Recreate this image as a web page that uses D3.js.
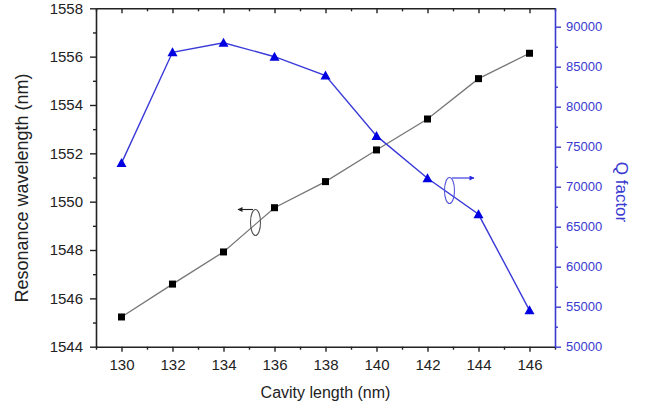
<!DOCTYPE html>
<html>
<head>
<meta charset="utf-8">
<script src="https://cdn.jsdelivr.net/npm/d3@7"></script>
<style>
  body { margin: 0; background: #fff; }
  text { font-family: Arial, "Liberation Sans", sans-serif; }
</style>
</head>
<body>
<div id="chart"></div>
<script>
// data
const cavity = [130, 132, 134, 136, 138, 140, 142, 144, 146];
const wavelength = [1545.23, 1546.59, 1547.92, 1549.75, 1550.83, 1552.14, 1553.42, 1555.09, 1556.14];
const qFactor = [72950, 86800, 88000, 86250, 83900, 76350, 71050, 66550, 54550];

const xTicks = [130, 132, 134, 136, 138, 140, 142, 144, 146];
const xMinor = [129, 131, 133, 135, 137, 139, 141, 143, 145, 147];
const yLeftTicks = [1544, 1546, 1548, 1550, 1552, 1554, 1556, 1558];
const yLeftMinor = [1545, 1547, 1549, 1551, 1553, 1555, 1557];
const yRightTicks = [50000, 55000, 60000, 65000, 70000, 75000, 80000, 85000, 90000];
const yRightMinor = [52500, 57500, 62500, 67500, 72500, 77500, 82500, 87500];

const W = 650, H = 411;
const plot = { left: 96, right: 555, top: 8.3, bottom: 346.7 };
const blue = "#3a3ad0";

const svg = d3.select("#chart").append("svg")
    .attr("width", W)
    .attr("height", H);

const x = d3.scaleLinear().domain([129, 147]).range([plot.left, plot.right]);
const yL = d3.scaleLinear().domain([1544, 1558]).range([plot.bottom, plot.top]);
const yR = d3.scaleLinear().domain([50000, 92300]).range([plot.bottom, plot.top]);

// axes helper
function styleAxis(g, color) {
    g.select(".domain").attr("stroke", color).attr("stroke-width", 1.6);
    g.selectAll(".tick line").attr("stroke", color).attr("stroke-width", 1.4);
    g.selectAll(".tick text").attr("fill", color).style("font-family", "Arial, 'Liberation Sans', sans-serif");
}

// bottom
const gb = svg.append("g").attr("transform", `translate(0,${plot.bottom})`)
    .call(d3.axisBottom(x).tickValues(xTicks).tickSizeInner(5).tickSizeOuter(0).tickPadding(8).tickFormat(d3.format("d")));
styleAxis(gb, "#222");
gb.selectAll(".tick text").attr("font-size", 15);
const gbm = svg.append("g").attr("transform", `translate(0,${plot.bottom})`)
    .call(d3.axisBottom(x).tickValues(xMinor).tickSize(3).tickFormat(""));
styleAxis(gbm, "#222");
gbm.select(".domain").remove();

// top (ticks inward)
const gt = svg.append("g").attr("transform", `translate(0,${plot.top})`)
    .call(d3.axisTop(x).tickValues(xTicks).tickSizeInner(-5).tickSizeOuter(0).tickFormat(""));
styleAxis(gt, "#222");
const gtm = svg.append("g").attr("transform", `translate(0,${plot.top})`)
    .call(d3.axisTop(x).tickValues(xMinor).tickSize(-3).tickFormat(""));
styleAxis(gtm, "#222");
gtm.select(".domain").remove();

// left
const gl = svg.append("g").attr("transform", `translate(${plot.left},0)`)
    .call(d3.axisLeft(yL).tickValues(yLeftTicks).tickSizeInner(6).tickSizeOuter(0).tickPadding(7).tickFormat(d3.format("d")));
styleAxis(gl, "#222");
gl.selectAll(".tick text").attr("font-size", 15);
const glm = svg.append("g").attr("transform", `translate(${plot.left},0)`)
    .call(d3.axisLeft(yL).tickValues(yLeftMinor).tickSize(3).tickFormat(""));
styleAxis(glm, "#222");
glm.select(".domain").remove();

// right (blue)
const gr = svg.append("g").attr("transform", `translate(${plot.right},0)`)
    .call(d3.axisRight(yR).tickValues(yRightTicks).tickSizeInner(6).tickSizeOuter(0).tickPadding(5).tickFormat(d3.format("d")));
styleAxis(gr, blue);
gr.selectAll(".tick text").attr("font-size", 13);
const grm = svg.append("g").attr("transform", `translate(${plot.right},0)`)
    .call(d3.axisRight(yR).tickValues(yRightMinor).tickSize(3).tickFormat(""));
styleAxis(grm, blue);
grm.select(".domain").remove();

// axis titles
svg.append("text")
    .attr("x", (plot.left + plot.right) / 2)
    .attr("y", 398)
    .attr("text-anchor", "middle")
    .attr("font-size", 16)
    .attr("fill", "#222")
    .text("Cavity length (nm)");

svg.append("text")
    .attr("transform", `translate(28,188) rotate(-90)`)
    .attr("text-anchor", "middle")
    .attr("font-size", 18)
    .attr("fill", "#222")
    .text("Resonance wavelength (nm)");

svg.append("text")
    .attr("transform", `translate(616,192) rotate(90)`)
    .attr("text-anchor", "middle")
    .attr("font-size", 17)
    .attr("fill", blue)
    .text("Q factor");

// wavelength series
const pts = cavity.map((c, i) => ({ c, w: wavelength[i], q: qFactor[i] }));

svg.append("path")
    .datum(pts)
    .attr("fill", "none")
    .attr("stroke", "#777")
    .attr("stroke-width", 1.3)
    .attr("d", d3.line().x(d => x(d.c)).y(d => yL(d.w)));

svg.selectAll(".sq")
    .data(pts)
    .join("rect")
    .attr("x", d => x(d.c) - 3.5)
    .attr("y", d => yL(d.w) - 3.5)
    .attr("width", 7)
    .attr("height", 7)
    .attr("fill", "#000");

// Q factor series
svg.append("path")
    .datum(pts)
    .attr("fill", "none")
    .attr("stroke", "#3a3ad8")
    .attr("stroke-width", 1.4)
    .attr("d", d3.line().x(d => x(d.c)).y(d => yR(d.q)));

svg.selectAll(".tri")
    .data(pts)
    .join("path")
    .attr("transform", d => `translate(${x(d.c)},${yR(d.q)})`)
    .attr("d", "M0,-5L5,4L-5,4Z")
    .attr("fill", "#0000e0");

// arrow markers
const defs = svg.append("defs");
[["ahBlack", "#222"], ["ahBlue", "#2a2ae0"]].forEach(([id, col]) => {
    defs.append("marker")
        .attr("id", id)
        .attr("viewBox", "0 0 10 10")
        .attr("refX", 9).attr("refY", 5)
        .attr("markerWidth", 9).attr("markerHeight", 5)
        .attr("markerUnits", "userSpaceOnUse")
        .attr("orient", "auto")
        .append("path").attr("d", "M0,0L10,5L0,10Z").attr("fill", col);
});

// left annotation: ellipse + arrow pointing to left axis
svg.append("ellipse")
    .attr("cx", 255.5).attr("cy", 222.5).attr("rx", 5).attr("ry", 13)
    .attr("fill", "none").attr("stroke", "#555").attr("stroke-width", 1.1);
svg.append("line")
    .attr("x1", 253).attr("y1", 209.5).attr("x2", 238).attr("y2", 209.5)
    .attr("stroke", "#222").attr("stroke-width", 1.1)
    .attr("marker-end", "url(#ahBlack)");

// right annotation: ellipse + arrow pointing to right axis
svg.append("ellipse")
    .attr("cx", 449.5).attr("cy", 190.5).attr("rx", 5).attr("ry", 13)
    .attr("fill", "none").attr("stroke", "#5555dd").attr("stroke-width", 1.1);
svg.append("line")
    .attr("x1", 452).attr("y1", 178).attr("x2", 474).attr("y2", 178)
    .attr("stroke", "#2a2ae0").attr("stroke-width", 1.1)
    .attr("marker-end", "url(#ahBlue)");
</script>
</body>
</html>
